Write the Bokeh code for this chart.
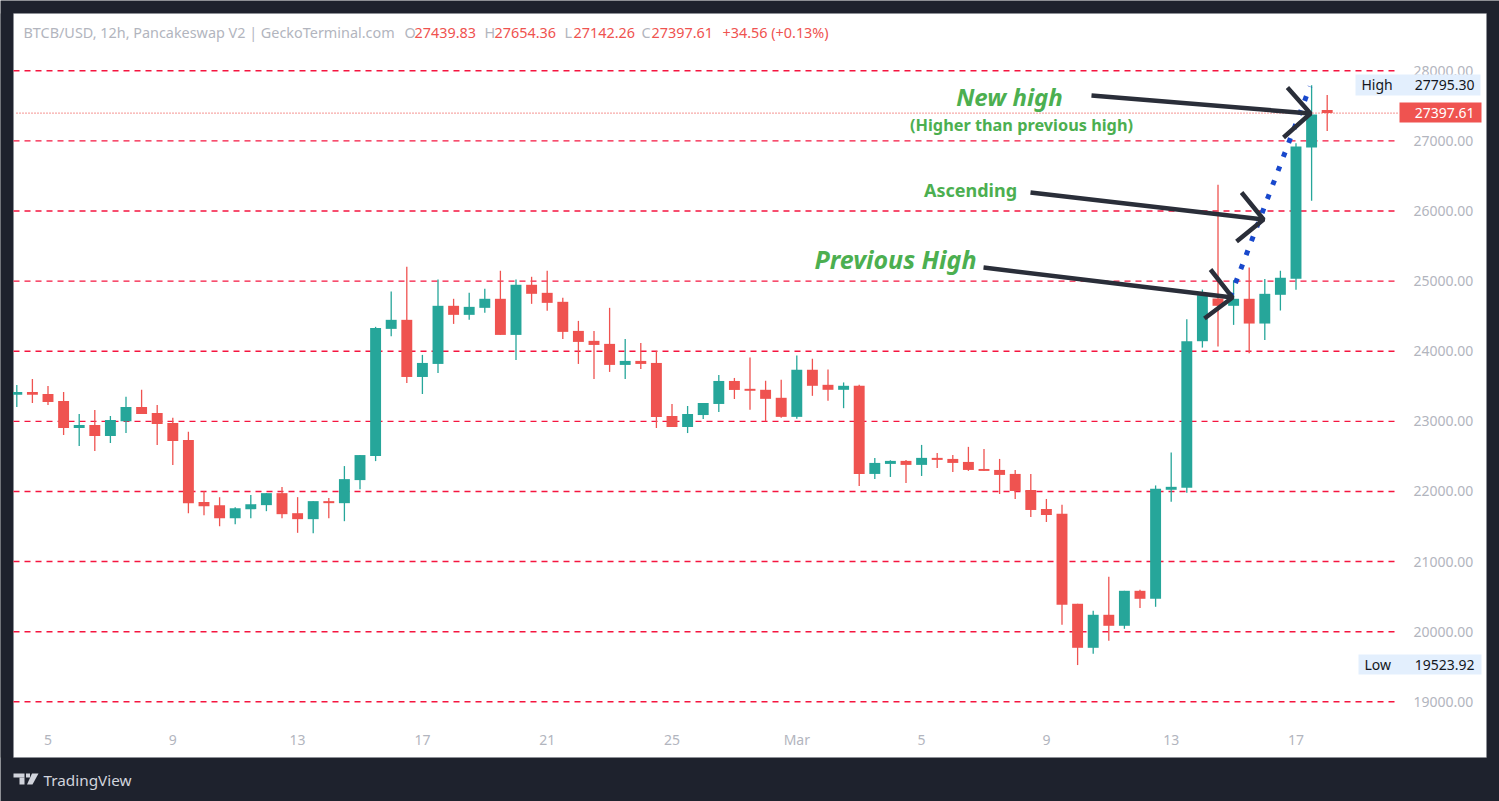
from bokeh.plotting import figure
from bokeh.models import (ColumnDataSource, Range1d, FixedTicker, Label, BoxAnnotation, PolyAnnotation)
from bokeh.core.properties import value
from bokeh.embed import file_html
from bokeh.resources import INLINE

opens = [23381,23419,23390,23290,22905,22948,22790,23000,23205,23119,22976,22733,21848,21805,21619,21748,21805,21976,21690,21605,21862,21833,22162,22505,
         24319,24448,23633,23819,24648,24519,24619,24748,24233,24948,24833,24705,24290,24148,24105,23805,23862,23833,23076,22919,23090,23248,23576,23464,
         23450,23336,23064,23736,23521,23450,23507,22250,22393,22436,22379,22479,22464,22421,22321,22307,22250,22021,21750,21681,20398,19770,20241,20084,
         20583,20469,22024,22052,24143,24752,24648,24748,24395,24805,25033,26905,27439.83]
highs = [23519,23605,23505,23419,23105,23162,23076,23352,23452,23233,23052,22852,22005,21919,21776,21948,21976,22062,21919,21862,21905,22362,22519,24348,
         24852,25205,23948,25024,24748,24833,24890,25148,25024,25062,25148,24762,24433,24290,24619,24176,24119,24005,23248,23219,23262,23662,23619,23912,
         23579,23593,23940,23893,23740,23555,23521,22479,22445,22450,22664,22550,22521,22636,22607,22464,22307,22250,21893,21810,20398,20298,20783,20583,
         20597,22086,22556,24457,24880,26376,25014,25195,25029,25148,26967,27795.30,27654.36]
lows = [23205,23262,23233,22805,22648,22576,22690,22833,23105,22662,22376,21690,21662,21505,21533,21619,21719,21619,21410,21405,21619,21576,22033,22433,
        24214,23548,23390,23690,24390,24448,24548,24233,23876,24676,24576,24176,23819,23605,23705,23605,23748,22905,22919,22833,23033,23133,23319,23164,
        23002,23050,23036,23364,23293,23188,22079,22179,22207,22121,22221,22336,22279,22293,22293,21964,21893,21636,21564,20098,19523.92,19685,19870,20041,
        20336,20355,21853,21981,24052,24067,24376,23971,24162,24581,24876,26148,27142.26]
closes = [23419,23381,23276,22905,22948,22790,23019,23205,23105,22962,22719,21833,21790,21619,21762,21819,21976,21676,21605,21862,21833,22176,22519,24333,
          24448,23633,23833,24648,24519,24633,24748,24233,24948,24819,24690,24276,24133,24090,23805,23862,23819,23062,22919,23105,23262,23576,23448,23436,
          23321,23064,23736,23507,23450,23507,22250,22407,22436,22379,22479,22450,22407,22307,22293,22236,22007,21736,21664,20384,19770,20241,20084,20583,
          20469,22038,22066,24143,24800,24648,24748,24395,24819,25048,26919,27376,27397.61]

x_tick_pos = [2, 10, 18, 26, 34, 42, 50, 58, 66, 74, 82]
x_tick_labels = ["5", "9", "13", "17", "21", "25", "Mar", "5", "9", "13", "17"]
price_ticks = [19000, 20000, 21000, 22000, 23000, 24000, 25000, 26000, 27000, 28000]

last_price = 27397.61
high_price = 27795.30
low_price = 19523.92

trend_x = [77.78, 82.9]
trend_y = [24771, 27776]

arrow_x = [[68.89, 82.93], [81.45, 82.93, 81.2],
           [64.98, 79.92], [78.51, 79.92, 78.19],
           [61.97, 77.93], [76.52, 77.93, 76.13]]
arrow_y = [[27648, 27391], [27762, 27391, 27049],
           [26264, 25879], [26264, 25879, 25565],
           [25194, 24766], [25166, 24766, 24467]]

BG = "#1e222d"
UP = "#26a69a"
DOWN = "#ef5350"
GREY = "#b2b5be"
GREEN = "#4caf50"
FONT = "Noto Sans"
W, H = 1499, 801


def to_x(px):
    return (px - 16.3) / 15.6


def to_y(py):
    return 28000 - (py - 70.3) / 70.11 * 1000


PANEL_L, PANEL_R, PANEL_T, PANEL_B = 13, 1486, 13, 757
PLOT_R, AXIS_B = 1395, 721

p = figure(width=W, height=H, output_backend="svg", toolbar_location=None,
           x_range=Range1d(to_x(0), to_x(W)), y_range=Range1d(to_y(H), to_y(0)),
           min_border=0, y_axis_location="right", background_fill_color=BG,
           border_fill_color=BG, outline_line_color=None)

p.grid.visible = False

for ax in (p.xaxis[0], p.yaxis[0]):
    ax.axis_line_color = None
    ax.major_tick_line_color = None
    ax.minor_tick_line_color = None
    ax.major_label_text_color = GREY
    ax.major_label_text_font = FONT
    ax.major_label_text_font_size = "14px"

p.xaxis[0].fixed_location = to_y(AXIS_B)
p.xaxis[0].ticker = FixedTicker(ticks=x_tick_pos)
p.xaxis[0].major_label_overrides = dict(zip(x_tick_pos, x_tick_labels))
p.xaxis[0].major_label_standoff = 2
p.yaxis[0].fixed_location = to_x(1397)
p.yaxis[0].ticker = FixedTicker(ticks=price_ticks)
p.yaxis[0].major_label_overrides = {t: f"{t:.2f}" for t in price_ticks}
p.yaxis[0].major_label_standoff = 10


def panel_box(left, right, top, bottom, fill, line=None, level="annotation"):
    b = BoxAnnotation(left=to_x(left), right=to_x(right), top=to_y(top), bottom=to_y(bottom),
                      fill_color=fill, fill_alpha=1 if fill else 0, line_color=line,
                      line_width=1, level=level, editable=False)
    p.add_layout(b)
    return b


panel_box(PANEL_L, PANEL_R, PANEL_T, PANEL_B, "white", line="#8a8e99", level="image")

n_ticks = len(price_ticks)
p.segment(x0=[to_x(PANEL_L)] * n_ticks, x1=[to_x(PLOT_R)] * n_ticks, y0=price_ticks, y1=price_ticks,
          line_color="#f5153f", line_dash=value([6, 5]), line_width=1.4)

idx = list(range(len(opens)))
cols = [UP if c >= o else DOWN for o, c in zip(opens, closes)]
src = ColumnDataSource(dict(x=idx, o=opens, h=highs, l=lows, c=closes, col=cols))
p.segment(x0="x", x1="x", y0="l", y1="h", line_color="col", line_width=1.3, source=src)
p.vbar(x="x", width=0.7, top="o", bottom="c", fill_color="col", line_color=None, source=src)

# the first candle is cut off by the edge of the chart panel
panel_box(0, PANEL_L - 0.5, PANEL_T, PANEL_B, BG)

p.line([to_x(16), to_x(1399)], [last_price, last_price], line_color=DOWN, line_dash=[1, 2], line_width=1.2)

p.line(trend_x, trend_y, line_color="#1848cc", line_width=5, line_dash=[5, 10])
p.multi_line(arrow_x, arrow_y, line_color="#2a2e39", line_width=4.5)


def text(s, px, py, color=GREY, size=14, align="left", style="normal", font=FONT):
    p.add_layout(Label(x=to_x(px), y=to_y(py), text=s, text_color=color, text_font=font,
                       text_font_size=f"{size}px", text_align=align, text_baseline="middle",
                       text_font_style=style))


# header row
text("BTCB/USD, 12h, Pancakeswap V2 | GeckoTerminal.com", 23, 32, size=14.4)
for letter, val, lx, vx in [("O", "27439.83", 404, 414), ("H", "27654.36", 484, 494),
                            ("L", "27142.26", 564, 573), ("C", "27397.61", 641, 651)]:
    text(letter, lx, 32, size=14.4)
    text(val, vx, 32, color=DOWN, size=14.4)
text("+34.56 (+0.13%)", 722, 32, color=DOWN, size=14.4)

# annotations
text("New high", 1009, 96, color=GREEN, size=24, align="center", style="bold italic")
text("(Higher than previous high)", 1021, 124, color=GREEN, size=16.3, align="center", style="bold")
text("Ascending", 970, 189, color=GREEN, size=18, align="center", style="bold")
text("Previous High", 895, 258, color=GREEN, size=25, align="center", style="bold italic")

# price tags
panel_box(1355, 1480, 74, 95, "#e3effd")
panel_box(1358, 1481, 654, 674, "#e3effd")
panel_box(1399, 1481, 102, 122, DOWN)
text("High", 1361, 84, color="#131722")
text(f"{high_price:.2f}", 1474, 84, color="#131722", align="right")
text("Low", 1364, 664, color="#131722")
text(f"{low_price:.2f}", 1474, 664, color="#131722", align="right")
text(f"{last_price:.2f}", 1474, 112, color="white", align="right")

# footer logo
LOGO = "#d1d4dc"
panel_box(13, 24, 773, 777, LOGO)
panel_box(19, 24, 777, 784, LOGO)
p.add_layout(PolyAnnotation(xs=[to_x(a) for a in (31.5, 38, 32, 26.5)],
                            ys=[to_y(b) for b in (773, 773, 784, 784)],
                            fill_color=LOGO, fill_alpha=1, line_color=None, level="annotation"))
panel_box(25.5, 29.5, 773, 777, LOGO)
text("TradingView", 43, 779, color=LOGO, size=15.3)

open("out.html", "w").write(file_html(p, INLINE))
